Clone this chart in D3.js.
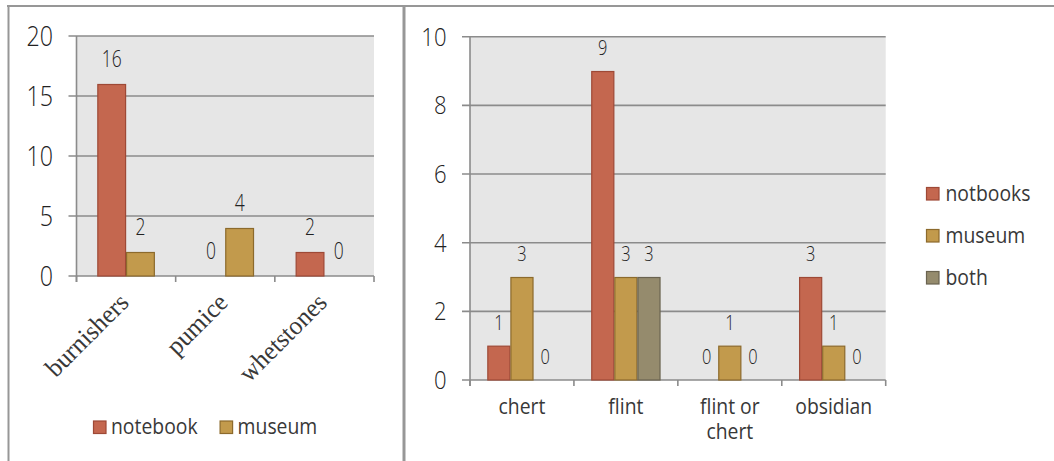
<!DOCTYPE html>
<html>
<head>
<meta charset="utf-8">
<script src="https://cdn.jsdelivr.net/npm/d3@7"></script>
<style>
  body { margin: 0; background: #fff; }
  svg { display: block; }
</style>
</head>
<body>
<svg id="chart" width="1054" height="461"></svg>
<script>
// Tools panel
const toolCategories = ["burnishers", "pumice", "whetstones"];
const toolNotebook = [16, 0, 2];
const toolMuseum = [2, 4, 0];
const toolTicks = [0, 5, 10, 15, 20];
const toolSeriesNames = ["notebook", "museum"];

// Stone panel
const stoneCategories = ["chert", "flint", "flint or chert", "obsidian"];
const stoneNotbooks = [1, 9, 0, 3];
const stoneMuseum = [3, 3, 1, 1];
const stoneBoth = [0, 3, 0, 0];
const stoneTicks = [0, 2, 4, 6, 8, 10];
const stoneSeriesNames = ["notbooks", "museum", "both"];

const FONT = "'Open Sans', 'Liberation Sans', sans-serif";
const SERIF = "'Liberation Serif', 'DejaVu Serif', serif";
const INK = "#383838";
const FRAME = "#979797";
const GRID = "#8b8b8b";
const PALETTE = [
  { fill: "#c4674f", stroke: "#9e4936" },
  { fill: "#c29a4c", stroke: "#8c6a2c" },
  { fill: "#958b6d", stroke: "#6a6350" }
];

const svg = d3.select("#chart");

// Outer frame: top rule, left edge and the divider between the two panels
svg.append("line").attr("x1", 7).attr("x2", 1054).attr("y1", 6).attr("y2", 6)
  .attr("stroke", FRAME).attr("stroke-width", 2);
svg.append("line").attr("x1", 8.5).attr("x2", 8.5).attr("y1", 5).attr("y2", 461)
  .attr("stroke", FRAME).attr("stroke-width", 2);
svg.append("line").attr("x1", 404).attr("x2", 404).attr("y1", 5).attr("y2", 461)
  .attr("stroke", FRAME).attr("stroke-width", 3);

function addText(parent, str, x, y, o) {
  return parent.append("text")
    .attr("transform", `translate(${x},${y})` + (o.rotate ? ` rotate(${o.rotate})` : "") + ` scale(${o.sx || 1},1)`)
    .attr("text-anchor", o.anchor || "middle")
    .attr("font-family", o.family || FONT)
    .attr("font-size", o.size)
    .attr("font-weight", o.weight || 400)
    .attr("fill", o.fill || INK)
    .text(str);
}

function drawPanel(cfg) {
  const g = svg.append("g");
  const names = cfg.series.map(s => s.name);
  const x0 = d3.scaleBand().domain(cfg.categories).range([cfg.left, cfg.right]);
  const bw = x0.bandwidth();
  const x1 = d3.scaleBand().domain(names).range([bw * cfg.inset, bw * (1 - cfg.inset)]);
  const y = d3.scaleLinear().domain([0, cfg.max]).range([cfg.bottom, cfg.top]);

  // plot area
  g.append("rect")
    .attr("x", cfg.left).attr("y", cfg.top)
    .attr("width", cfg.right - cfg.left).attr("height", cfg.bottom - cfg.top)
    .attr("fill", "#e6e6e6");

  // gridlines (extend left as tick marks)
  g.selectAll("line.grid").data(cfg.ticks).join("line")
    .attr("class", "grid")
    .attr("x1", cfg.left - 8).attr("x2", cfg.right)
    .attr("y1", d => y(d)).attr("y2", d => y(d))
    .attr("stroke", GRID).attr("stroke-width", 1.6);

  // y axis line
  g.append("line")
    .attr("x1", cfg.left).attr("x2", cfg.left)
    .attr("y1", cfg.top).attr("y2", cfg.bottom + 6)
    .attr("stroke", GRID).attr("stroke-width", 1.6);

  // category boundary ticks
  const bounds = cfg.categories.map(c => x0(c)).concat([cfg.right]);
  g.selectAll("line.xt").data(bounds).join("line")
    .attr("class", "xt")
    .attr("x1", d => d).attr("x2", d => d)
    .attr("y1", cfg.bottom).attr("y2", cfg.bottom + 6)
    .attr("stroke", GRID).attr("stroke-width", 1.6);

  // y tick labels
  cfg.ticks.forEach(t => {
    addText(g, String(t), cfg.tickRight, y(t) + cfg.tickShift,
      { size: cfg.tickSize, sx: cfg.tickSx, anchor: "end", weight: 300, fill: "#222" });
  });

  // bars
  cfg.series.forEach((s, si) => {
    const items = cfg.categories.map((c, i) => ({ c, v: s.values[i] }));
    g.selectAll(null).data(items.filter(d => d.v > 0)).join("rect")
      .attr("x", d => x0(d.c) + x1(s.name) + 0.5)
      .attr("y", d => y(d.v) + 0.5)
      .attr("width", x1.bandwidth() - 1)
      .attr("height", d => y(0) - y(d.v) - 0.5)
      .attr("fill", PALETTE[si].fill)
      .attr("stroke", PALETTE[si].stroke)
      .attr("stroke-width", 1.2);
    items.forEach(d => {
      addText(g, String(d.v), x0(d.c) + x1(s.name) + x1.bandwidth() / 2, y(d.v) - cfg.labelLift,
        { size: cfg.labelSize, sx: cfg.labelSx, weight: 300, fill: "#222" });
    });
  });

  return { g, x0, y };
}

// ---- Tools panel ----
const tools = drawPanel({
  categories: toolCategories,
  series: [{ name: toolSeriesNames[0], values: toolNotebook }, { name: toolSeriesNames[1], values: toolMuseum }],
  ticks: toolTicks, max: 20,
  left: 76.5, right: 374, top: 36, bottom: 276,
  inset: 0.21,
  tickRight: 53, tickShift: 10, tickSize: 28, tickSx: 0.83,
  labelLift: 17, labelSize: 23, labelSx: 0.76
});

toolCategories.forEach(c => {
  addText(tools.g, c, tools.x0(c) + tools.x0.bandwidth() / 2 + 4, 304,
    { size: 26, family: SERIF, weight: 400, anchor: "end", rotate: -45, sx: 0.97 });
});

// legend below the tools panel
(function () {
  let x = 93;
  toolSeriesNames.forEach((n, i) => {
    tools.g.append("rect").attr("x", x + 0.5).attr("y", 421).attr("width", 12.5).attr("height", 12.5)
      .attr("fill", PALETTE[i].fill).attr("stroke", PALETTE[i].stroke).attr("stroke-width", 1.2);
    const t = addText(tools.g, n, x + 18, 433.5, { size: 22, sx: 0.88, anchor: "start" });
    x += 18 + t.node().getComputedTextLength() * 0.88 + 22;
  });
})();

// ---- Stone panel ----
const stones = drawPanel({
  categories: stoneCategories,
  series: [
    { name: stoneSeriesNames[0], values: stoneNotbooks },
    { name: stoneSeriesNames[1], values: stoneMuseum },
    { name: stoneSeriesNames[2], values: stoneBoth }
  ],
  ticks: stoneTicks, max: 10,
  left: 470, right: 885.7, top: 36.7, bottom: 380,
  inset: 0.1667,
  tickRight: 446.5, tickShift: 9, tickSize: 26, tickSx: 0.85,
  labelLift: 16, labelSize: 21, labelSx: 0.78
});

// category labels, wrapped to the band width (one text element, one tspan per line)
stoneCategories.forEach(c => {
  const cx = stones.x0(c) + stones.x0.bandwidth() / 2;
  const maxW = stones.x0.bandwidth() - 8;
  const sx = 0.88;
  const t = addText(stones.g, "", cx, 414, { size: 22, sx });
  const words = c.split(" ");
  const lines = [];
  let cur = "";
  words.forEach(w => {
    const trial = cur ? cur + " " + w : w;
    t.text(trial);
    if (cur && t.node().getComputedTextLength() * sx > maxW) {
      lines.push(cur); cur = w;
    } else cur = trial;
  });
  lines.push(cur);
  t.text(null);
  lines.forEach((ln, k) => t.append("tspan").attr("x", 0).attr("dy", k === 0 ? 0 : 25).text(ln));
});

// legend to the right of the stone panel
stoneSeriesNames.forEach((n, i) => {
  const cy = 194 + i * 42;
  stones.g.append("rect").attr("x", 926.5).attr("y", cy - 6.5).attr("width", 12.5).attr("height", 12.5)
    .attr("fill", PALETTE[i].fill).attr("stroke", PALETTE[i].stroke).attr("stroke-width", 1.2);
  addText(stones.g, n, 945.5, cy + 6.5, { size: 22, sx: 0.88, anchor: "start" });
});
</script>
</body>
</html>
